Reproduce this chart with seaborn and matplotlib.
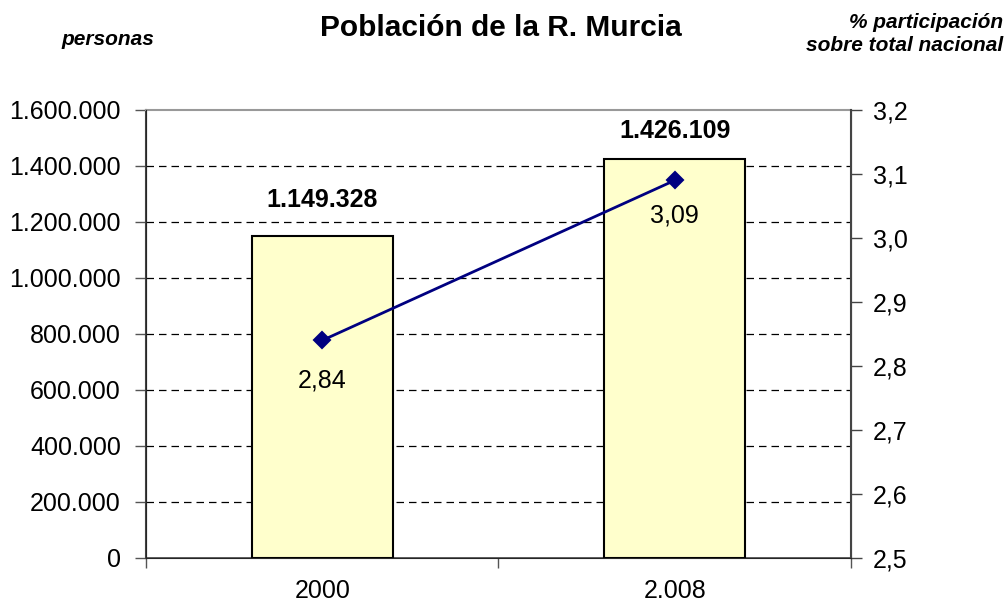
import matplotlib
matplotlib.use("Agg")
import matplotlib.pyplot as plt
import seaborn as sns
import pandas as pd
from matplotlib.ticker import FuncFormatter, FixedLocator

# data
years = ["2000", "2.008"]
poblacion = [1149328, 1426109]
participacion = [2.84, 3.09]

df = pd.DataFrame({"anio": years, "poblacion": poblacion, "pct": participacion})

sns.set_style("white")
plt.rcParams["font.family"] = ["Liberation Sans", "DejaVu Sans"]
plt.rcParams["text.color"] = "black"
plt.rcParams["xtick.labelcolor"] = "black"
plt.rcParams["ytick.labelcolor"] = "black"


def miles(v, pos):
    return f"{int(round(v)):,}".replace(",", ".")


def coma(v, pos):
    return f"{v:.1f}".replace(".", ",")


fig = plt.figure(figsize=(10.08, 6.04), dpi=100)
ax = fig.add_axes([0.1448, 0.0762, 0.6994, 0.7417])

sns.barplot(data=df, x="anio", y="poblacion", color="#FFFFCC", saturation=1,
            edgecolor="black", linewidth=1.5, width=0.4, ax=ax, zorder=3)
ax.set(xlim=(-0.5, 1.5), ylim=(0, 1600000), xlabel="", ylabel="")
ax.set_yticks(range(0, 1600001, 200000))
ax.yaxis.set_major_formatter(FuncFormatter(miles))
for yv in range(200000, 1400001, 200000):
    ax.axhline(yv, color="black", lw=0.9, ls=(0, (6, 4)), zorder=1)

ax.tick_params(axis="y", which="major", direction="out", length=8, width=1,
               labelsize=18, color="#555555", labelcolor="black", left=True,
               pad=10)
ax.tick_params(axis="x", which="major", length=0, labelsize=18, pad=15,
               labelcolor="black")
ax.xaxis.set_minor_locator(FixedLocator([-0.5, 0.5, 1.5]))
ax.tick_params(axis="x", which="minor", direction="out", length=7, width=1,
               color="#555555", bottom=True)

for side in ["top", "bottom", "left", "right"]:
    ax.spines[side].set_visible(True)
ax.spines["top"].set_color("#999999")
ax.spines["top"].set_linewidth(1.5)
ax.spines["left"].set_color("#444444")
ax.spines["left"].set_linewidth(1.5)
ax.spines["bottom"].set_color("#444444")
ax.spines["bottom"].set_linewidth(1.2)

label_off = [26, 20]
for i, v in enumerate(poblacion):
    ax.annotate(miles(v, None), (i, v), xytext=(0, label_off[i]),
                textcoords="offset points", ha="center", va="center",
                fontsize=18, fontweight="bold", color="black")

ax2 = ax.twinx()
sns.pointplot(data=df, x="anio", y="pct", color="#000080", markers="D",
              markersize=8.5, linewidth=2, ax=ax2)
ax2.set(xlim=(-0.5, 1.5), ylim=(2.5, 3.2), xlabel="", ylabel="")
ax2.set_yticks([2.5, 2.6, 2.7, 2.8, 2.9, 3.0, 3.1, 3.2])
ax2.yaxis.set_major_formatter(FuncFormatter(coma))
ax2.tick_params(axis="y", direction="out", length=8, width=1, labelsize=18,
                color="#444444", labelcolor="black", right=True, pad=8)
ax2.spines["right"].set_color("#444444")
ax2.spines["right"].set_linewidth(1.5)
ax2.spines["top"].set_visible(False)

pct_off = [-29, -25]
for i, v in enumerate(participacion):
    ax2.annotate(f"{v:.2f}".replace(".", ","), (i, v), xytext=(0, pct_off[i]),
                 textcoords="offset points", ha="center", va="center",
                 fontsize=18, color="black")

fig.text(0.497, 0.953, "Población de la R. Murcia", ha="center", va="center",
         fontsize=21.5, fontweight="bold")
fig.text(0.107, 0.935, "personas", ha="center", va="center", fontsize=15,
         fontweight="bold", style="italic")
fig.text(0.995, 0.944, "% participación\nsobre total nacional", ha="right",
         va="center", fontsize=15, fontweight="bold", style="italic",
         multialignment="right", linespacing=1.25)

fig.savefig("out.png", dpi=100)
